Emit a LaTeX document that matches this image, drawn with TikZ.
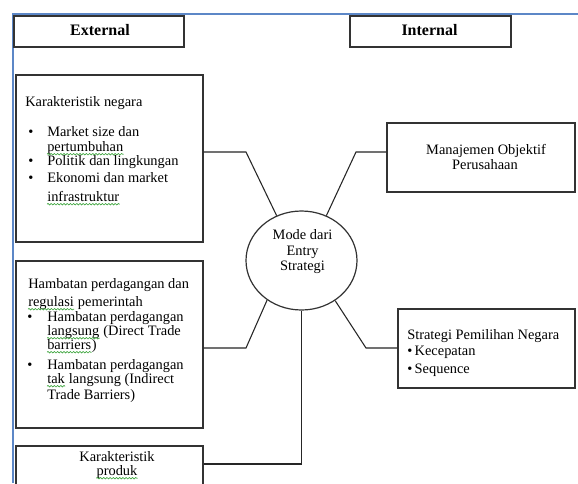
\documentclass[tikz,border=0pt]{standalone}
\usepackage{fontspec}
\setmainfont{Liberation Serif}
\usetikzlibrary{shapes.geometric,decorations.pathmorphing}
\definecolor{frameblue}{rgb}{0.36,0.53,0.78}
\definecolor{spellgreen}{rgb}{0.25,0.65,0.25}
\tikzset{
  box/.style={draw=black!80, line width=0.9pt, rectangle, inner sep=0pt, anchor=center},
  txt/.style={inner sep=0pt, anchor=base west, font=\fontsize{10.8}{12}\selectfont},
  ctxt/.style={inner sep=0pt, anchor=base, font=\fontsize{10.8}{12}\selectfont},
  head/.style={inner sep=0pt, anchor=base, font=\fontsize{12}{14}\selectfont\bfseries},
  conn/.style={draw=black!85, line width=0.8pt},
  squig/.style={draw=spellgreen, line width=0.5pt, decorate, decoration={snake, amplitude=0.55pt, segment length=2.4pt}},
}
\newcommand\squnder[1]{\draw[squig] ([yshift=-2.4pt]#1.base west) -- ([yshift=-2.4pt]#1.base east);}
\begin{document}
\begin{tikzpicture}[x=0.75pt,y=-0.75pt]
\clip (0,0) rectangle (578,483);
\fill[white] (0,0) rectangle (578,483);
% frame lines
\draw[frameblue, line width=1.5pt] (13,483) -- (13,14) -- (578,14);
% heading boxes
\node[box, minimum width=127.5pt, minimum height=23.25pt] (ext) at (99,31.5) {};
\node[box, minimum width=120.75pt, minimum height=23.25pt] (int) at (430.5,31.5) {};
\node[head] (extt) at (100,35) {External};
\node[head] (intt) at (429.5,35) {Internal};
% left boxes
\node[box, minimum width=140.25pt, minimum height=125.25pt] (neg) at (109.5,158.5) {};
\node[box, minimum width=140.25pt, minimum height=125.25pt] (ham) at (109.5,344.5) {};
\node[box, minimum width=140.25pt, minimum height=45pt] (pro) at (109.5,476) {};
% right boxes
\node[box, minimum width=141pt, minimum height=51.75pt] (man) at (481,157.5) {};
\node[box, minimum width=132.75pt, minimum height=59.25pt] (str) at (486.5,348.5) {};
% centre ellipse
\node[draw=black!80, line width=0.9pt, ellipse, inner sep=0pt, minimum width=83.25pt, minimum height=74.25pt] (mode) at (301.5,260.5) {};
% texts box 1
\node[txt] (n0) at (25,106) {Karakteristik negara};
\node[txt] (n1b) at (28,136) {\textbullet};
\node[txt] (n1) at (47,136) {Market size dan};
\node[txt] (n2) at (47,151) {pertumbuhan};
\node[txt] (n3b) at (28,165) {\textbullet};
\node[txt] (n3) at (47,165) {Politik dan lingkungan};
\node[txt] (n4b) at (28,182) {\textbullet};
\node[txt] (n4) at (47,182) {Ekonomi dan market};
\node[txt] (n5) at (47,201) {infrastruktur};
% texts box 2
\node[txt] (h0) at (28,288) {Hambatan perdagangan dan};
\node[txt] (h1a) at (28,306) {regulasi};
\node[txt] (h1) at (h1a.base east) {\ pemerintah};
\node[txt] (h2b) at (27,321) {\textbullet};
\node[txt] (h2) at (47,321) {Hambatan perdagangan};
\node[txt] (h3a) at (47,335) {langsung};
\node[txt] (h3) at (h3a.base east) {\ (Direct Trade};
\node[txt] (h4a) at (47,349) {barriers};
\node[txt] (h4) at (h4a.base east) {)};
\node[txt] (h5b) at (27,369) {\textbullet};
\node[txt] (h5) at (47,369) {Hambatan perdagangan};
\node[txt] (h6a) at (47,383) {tak};
\node[txt] (h6) at (h6a.base east) {\ langsung (Indirect};
\node[txt] (h7) at (47,399) {Trade Barriers)};
% texts box 3
\node[ctxt] (p0) at (117,461) {Karakteristik};
\node[ctxt] (p1) at (117,475) {produk};
% manajemen
\node[ctxt] (m0) at (486,154) {Manajemen Objektif};
\node[ctxt] (m1) at (485,169) {Perusahaan};
% strategi
\node[txt] (s0) at (407,339) {Strategi Pemilihan Negara};
\node[txt] (s1) at (407,355) {\textbullet\,Kecepatan};
\node[txt] (s2) at (407,373) {\textbullet\,Sequence};
% circle text
\node[ctxt] (c0) at (302.5,239) {Mode dari};
\node[ctxt] (c1) at (302.5,255) {Entry};
\node[ctxt] (c2) at (302.5,270) {Strategi};
% spell-check underlines
\squnder{n2}
\squnder{n5}
\squnder{h1a}
\squnder{h3a}
\squnder{h4a}
\squnder{h6a}
\squnder{p1}
% connectors
\coordinate (k1) at (246,152);
\coordinate (k2) at (356,152);
\coordinate (k3) at (246,348);
\coordinate (k4) at (366,348);
\coordinate (k5) at (300,464);
\draw[conn] (neg.east |- k1) -- (k1) -- (mode.119);
\draw[conn] (man.west |- k2) -- (k2) -- (mode.61);
\draw[conn] (ham.east |- k3) -- (k3) -- (mode.229);
\draw[conn] (str.west |- k4) -- (k4) -- (mode.310);
\draw[conn] (pro.east |- k5) -| (mode.south);
\end{tikzpicture}
\end{document}
